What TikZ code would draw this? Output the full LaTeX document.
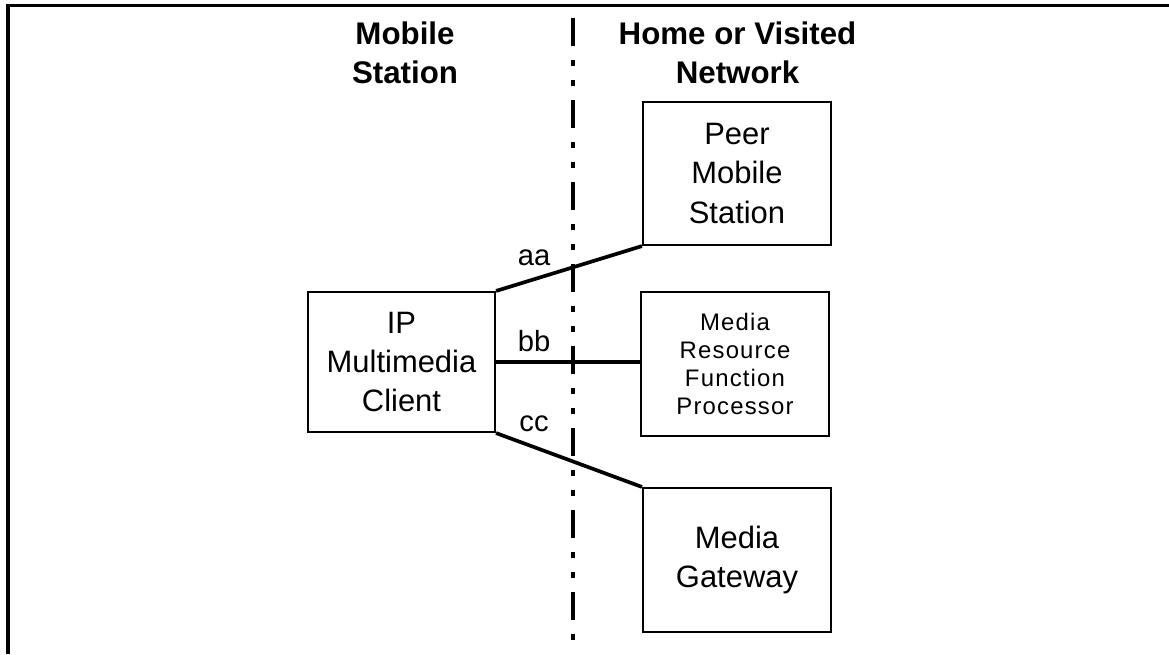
\documentclass[tikz,border=0pt]{standalone}
\usepackage{fontspec}
\setmainfont{Liberation Sans}
\begin{document}
\begin{tikzpicture}[
        box/.style={draw, line width=0.6pt, minimum width=1.88cm,
            minimum height=1.43cm, align=center,
            font=\fontsize{8.8}{11.1}\selectfont},
        head/.style={align=center, font=\bfseries\fontsize{8.9}{11.1}\selectfont},
        tag/.style={font=\fontsize{8.3}{10}\selectfont},
        link/.style={line width=1.05pt}]
                \useasboundingbox (0, 0) rectangle (11.69, 6.54);
                \draw [line width=0.95pt] (0.08, 0) -- (0.08, 6.487) -- (11.69, 6.487);
                % boundary between the two sides
                \draw [line width=1.05pt, dash pattern={on 0.28cm off 0.135cm on 0.06cm
                    off 0.14cm on 0.06cm off 0.145cm}] (5.733, 6.36) -- (5.733, 0.1);
                \node [head] (ms) at (4.05, 6.015) {Mobile\\Station};
                \node [head] (net) at (7.375, 6.015) {Home or Visited\\Network};
                \node [box, minimum width=1.87cm, minimum height=1.40cm] (ipc) at (4.015, 2.92)
                    {IP\\Multimedia\\Client};
                \node [box] (peer) at (7.37, 4.805) {Peer\\Mobile\\Station};
                \node [box, minimum height=1.44cm,
                    font=\addfontfeature{LetterSpace=5}\fontsize{6.8}{7.97}\selectfont] (mrfp)
                    at (7.35, 2.90) {Media\\Resource\\Function\\Processor};
                \node [box, minimum height=1.44cm] (mgw) at (7.37, 0.94) {Media\\Gateway};
                \draw [link] (ipc.north east) -- (peer.south west);
                \draw [link] (ipc.east) -- (ipc.east -| mrfp.west);
                \draw [link] (ipc.south east) -- (mgw.north west);
                \node [tag] (aa) at (5.34, 3.96) {aa};
                \node [tag] (bb) at (5.34, 3.13) {bb};
                \node [tag] (cc) at (5.34, 2.30) {cc};
            \end{tikzpicture}
\end{document}
